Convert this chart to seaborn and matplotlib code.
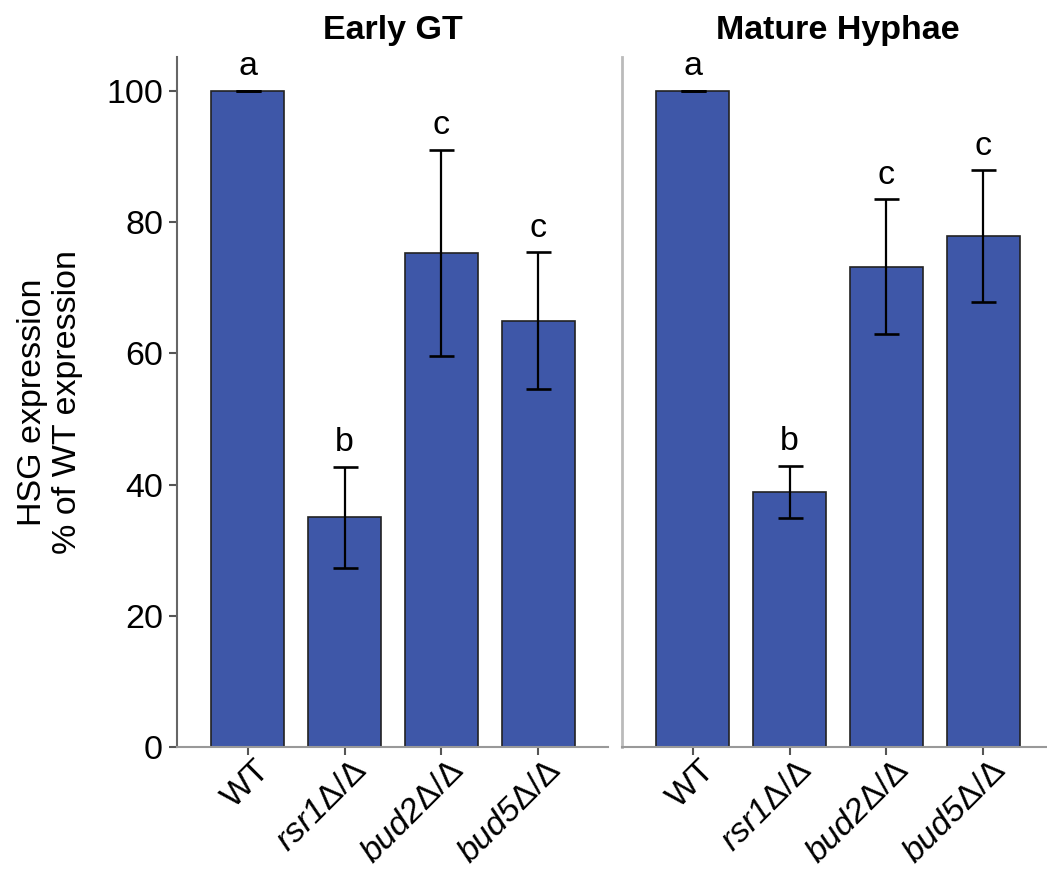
import numpy as np
import pandas as pd
import matplotlib
matplotlib.use("Agg")
import matplotlib.pyplot as plt
import matplotlib.transforms as mtransforms
import seaborn as sns

# ---- data -------------------------------------------------------------
strains = ["WT", "rsr1", "bud2", "bud5"]
panels = ["Early GT", "Mature Hyphae"]

early_mean = [100.0, 35.0, 75.3, 65.0]
early_err = [0.0, 7.7, 15.7, 10.4]
early_letters = ["a", "b", "c", "c"]

mature_mean = [100.0, 38.9, 73.2, 77.9]
mature_err = [0.0, 4.0, 10.3, 10.0]
mature_letters = ["a", "b", "c", "c"]

y_ticks = [0, 20, 40, 60, 80, 100]
y_label = "HSG expression\n% of WT expression"

# ---- style ------------------------------------------------------------
sns.set_theme(style="white")
plt.rcParams["font.family"] = ["Liberation Sans", "DejaVu Sans"]
plt.rcParams["mathtext.fontset"] = "custom"
plt.rcParams["mathtext.rm"] = "Liberation Sans:italic"
plt.rcParams["mathtext.it"] = "Liberation Sans:italic"
plt.rcParams["text.color"] = "black"
plt.rcParams["xtick.color"] = "black"
plt.rcParams["ytick.color"] = "black"
plt.rcParams["axes.labelcolor"] = "black"

BAR = "#3E57A8"
FS = 24.5

def strain_label(s):
    if s == "WT":
        return "WT"
    return r"$\mathrm{" + s + r"}$" + "Δ/Δ"

W, H = 1047, 871
fig = plt.figure(figsize=(W / 100, H / 100), dpi=100)

def px_axes(x0, y0, x1, y1):
    return fig.add_axes([x0 / W, 1 - y1 / H, (x1 - x0) / W, (y1 - y0) / H])

ax_l = px_axes(177, 57, 608, 747)
ax_r = px_axes(622, 57, 1053, 747)

datasets = [
    (ax_l, panels[0], early_mean, early_err, early_letters),
    (ax_r, panels[1], mature_mean, mature_err, mature_letters),
]

# nudge the rotated strain names along their reading direction
label_shift = mtransforms.ScaledTranslation(7 / 100, 8 / 100, fig.dpi_scale_trans)

for ax, title, means, errs, letters in datasets:
    df = pd.DataFrame({"strain": strains, "value": means, "err": errs})
    sns.barplot(data=df, x="strain", y="value", order=strains, color=BAR,
                saturation=1, width=0.75, edgecolor="#222222", linewidth=1.2,
                errorbar=None, ax=ax)
    pos = np.arange(len(strains))
    ax.errorbar(pos, df["value"], yerr=df["err"], fmt="none", ecolor="black",
                elinewidth=1.6, capsize=9, capthick=1.9, zorder=5)
    for x, m, e, lab in zip(pos, means, errs, letters):
        ax.text(x, m + e + 2.4, lab, ha="center", va="baseline", fontsize=FS)

    ax.set_xlim(-0.73, 3.72)
    ax.set_ylim(0, 105.2)
    ax.set_title(title, fontsize=FS, fontweight="bold", pad=13)
    ax.set_xlabel("")
    ax.set_xticks(pos)
    ax.tick_params(axis="x", length=6, width=1.5, color="#555555",
                   pad=5, bottom=True)
    ax.set_xticklabels([strain_label(s) for s in strains], rotation=45,
                       ha="right", va="top", rotation_mode="anchor",
                       fontsize=FS)
    for t in ax.get_xticklabels():
        t.set_transform(t.get_transform() + label_shift)
    for side in ["top", "right"]:
        ax.spines[side].set_visible(False)
    ax.spines["bottom"].set_color("#999999")
    ax.spines["bottom"].set_linewidth(1.5)

ax_l.set_yticks(y_ticks)
ax_l.set_yticklabels([str(t) for t in y_ticks], fontsize=FS)
ax_l.tick_params(axis="y", length=6, width=1.5, color="#555555", pad=4,
                 left=True)
ax_l.spines["left"].set_color("#666666")
ax_l.spines["left"].set_linewidth(1.5)
ax_l.set_ylabel(y_label, fontsize=FS, linespacing=1.15, labelpad=17)

ax_r.set_yticks([])
ax_r.set_ylabel("")
ax_r.spines["left"].set_color("#BBBBBB")
ax_r.spines["left"].set_linewidth(2)

fig.savefig("out.png", dpi=100)
